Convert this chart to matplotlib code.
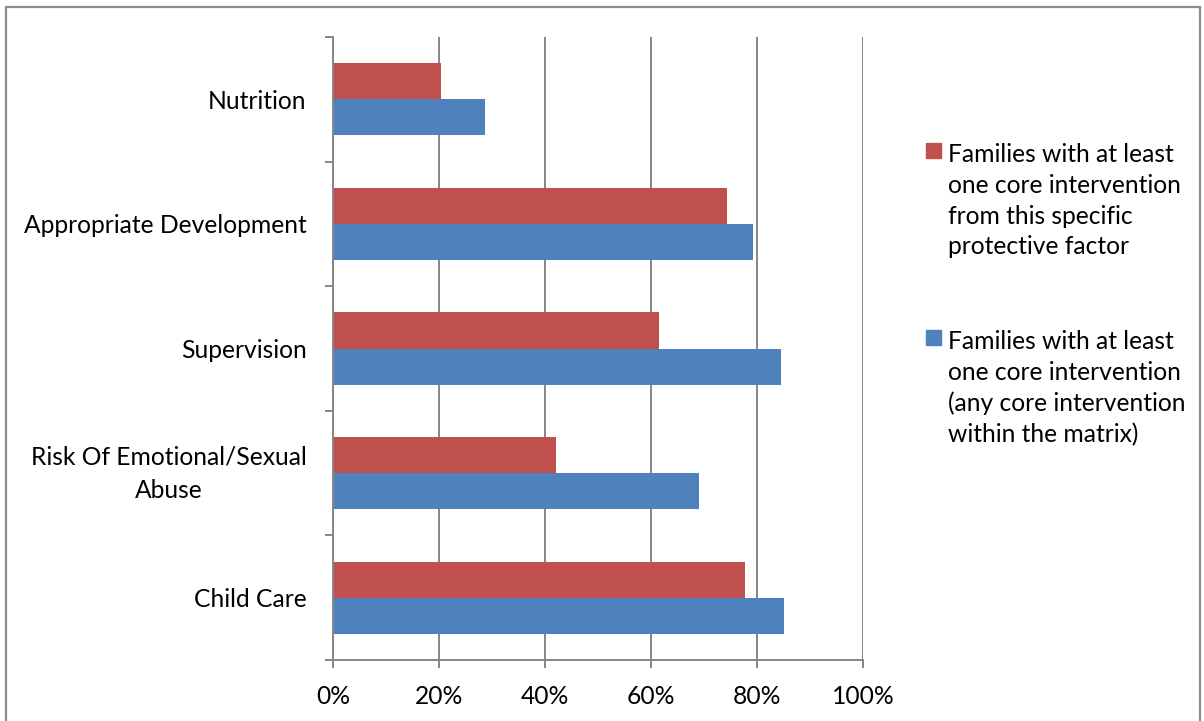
import matplotlib
matplotlib.use("Agg")
import matplotlib.pyplot as plt
from matplotlib.patches import Rectangle
from matplotlib.ticker import FuncFormatter
from matplotlib.transforms import ScaledTranslation

plt.rcParams['font.family'] = ['Lato', 'DejaVu Sans']

categories = ["Nutrition", "Appropriate Development", "Supervision",
              "Risk Of Emotional/Sexual\nAbuse", "Child Care"]
specific = [20.3, 74.4, 61.5, 42.1, 77.8]
any_core = [28.7, 79.2, 84.6, 69.1, 85.1]
series_labels = ["Families with at least\none core intervention\nfrom this specific\nprotective factor",
                 "Families with at least\none core intervention\n(any core intervention\nwithin the matrix)"]
xticks = [0, 20, 40, 60, 80, 100]

RED = "#C0504D"
BLUE = "#4F81BD"
GRID = "#868686"
FS = 17.7

W, H = 1204, 721
fig = plt.figure(figsize=(W / 100, H / 100), dpi=100)
ax = fig.add_axes([333 / W, 1 - 660 / H, (863 - 333) / W, (660 - 37) / H])

n = len(categories)
pos = list(range(n))
h = 0.289
ax.barh([p - h / 2 for p in pos], specific, height=h, color=RED, zorder=3)
ax.barh([p + h / 2 for p in pos], any_core, height=h, color=BLUE, zorder=3)

ax.set_xlim(0, 100)
ax.set_ylim(n - 0.5, -0.5)
ax.set_xticks(xticks)
ax.xaxis.set_major_formatter(FuncFormatter(lambda v, _: f"{v:.0f}%"))
ax.set_yticks(pos)
ax.set_yticklabels(categories, multialignment='center', linespacing=1.55)
ax.set_yticks([i - 0.5 for i in range(n + 1)], minor=True)

ax.tick_params(axis='y', which='major', length=0, pad=19, labelsize=FS, colors='black')
ax.tick_params(axis='y', which='minor', length=6, width=1.4, color=GRID, direction='out')
ax.tick_params(axis='x', which='major', length=6, width=1.4, color=GRID, pad=12,
               labelsize=FS, labelcolor='black')

# shift multi-line labels so the block is centred on the category
for lab in ax.get_yticklabels():
    if "\n" in lab.get_text():
        lab.set_transform(lab.get_transform() + ScaledTranslation(0, 7 / 100, fig.dpi_scale_trans))

ax.grid(axis='x', color=GRID, linewidth=1.4, zorder=0)
for s in ['top', 'right']:
    ax.spines[s].set_visible(False)
for s in ['left', 'bottom']:
    ax.spines[s].set_color(GRID)
    ax.spines[s].set_linewidth(1.4)
    ax.spines[s].set_zorder(4)

# legend
colors = [RED, BLUE]
tops = [143, 330]
for c, t, lab in zip(colors, tops, series_labels):
    fig.patches.append(Rectangle((926 / W, 1 - (t + 15) / H), 15 / W, 15 / H,
                                 transform=fig.transFigure, color=c))
    fig.text(948 / W, 1 - t / H, lab, ha='left', va='top', fontsize=FS,
             linespacing=1.41)

# outer border
fig.patches.append(Rectangle((6 / W, -0.05), (1200 - 6) / W, 1 - 7 / H + 0.05,
                             transform=fig.transFigure, fill=False,
                             edgecolor='#8C8C8C', linewidth=1.6))

fig.savefig("out.png", dpi=100)
